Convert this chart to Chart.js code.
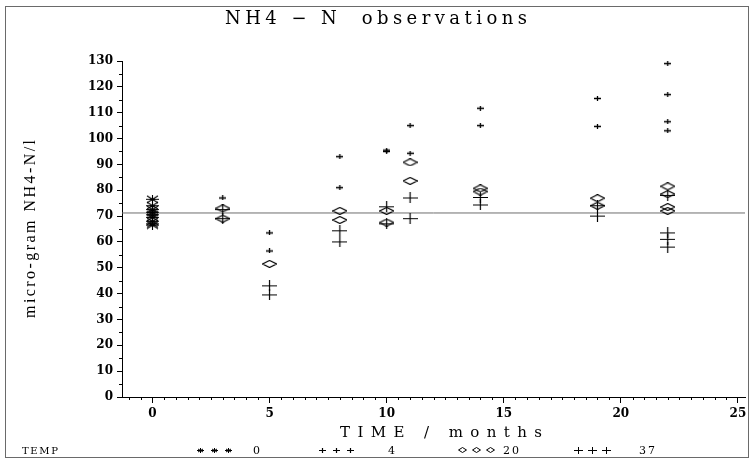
<!DOCTYPE html>
<html>
<head>
<meta charset="utf-8">
<title>NH4-N observations</title>
<script src="https://cdn.jsdelivr.net/npm/chart.js@4.4.1/dist/chart.umd.min.js"></script>
<style>
  html, body { margin: 0; padding: 0; background: #fff; }
</style>
</head>
<body>
<canvas id="chart" width="754" height="464"></canvas>
<script>
// TEMP groups (legend labels)
const tempLabels = ["0", "4", "20", "37"];

// observations per storage temperature: time (months) and NH4-N (micro-gram/l)
const temp0Time  = [0, 0, 0, 0, 0, 0, 0, 0, 0];
const temp0Value = [76.5, 74, 72.5, 71.5, 70.5, 69.5, 68, 67, 66.5];

const temp4Time  = [3, 5, 5, 8, 8, 10, 10, 11, 11, 14, 14, 19, 19, 22, 22, 22, 22];
const temp4Value = [77, 63.5, 56.5, 93, 81, 95.5, 95, 105, 94.3, 111.7, 105, 115.5, 104.7, 129, 117, 106.5, 103];

const temp20Time  = [3, 3, 5, 8, 8, 10, 10, 11, 11, 14, 14, 19, 19, 22, 22, 22, 22];
const temp20Value = [73, 69, 51.5, 72, 68.5, 72, 67.5, 90.8, 83.6, 80.7, 79.5, 76.9, 74, 81.5, 78.5, 73.5, 72];

const temp37Time  = [3, 3, 5, 5, 8, 8, 10, 10, 11, 11, 14, 14, 19, 19, 22, 22, 22, 22];
const temp37Value = [72.5, 69, 43, 39.5, 64.3, 60, 73.6, 67, 77, 69, 77.2, 74.3, 74, 70, 78, 63.5, 61, 58];

// horizontal reference level
const refLevel = 71.2;

const xMin = -1.3, xMax = 25.3;
const yMin = 0, yMax = 130;
const xTickValues = [0, 5, 10, 15, 20, 25];
const yTickValues = [0, 10, 20, 30, 40, 50, 60, 70, 80, 90, 100, 110, 120, 130];

const titleText = "NH4 \u2212 N  observations";
const xTitleText = "TIME / months";
const yTitleText = "micro-gram NH4-N/l";

// SAS-like plot symbols, drawn once on small canvases
function makeMarker(w, h, lw, path) {
    const c = document.createElement("canvas");
    c.width = w; c.height = h;
    const g = c.getContext("2d");
    g.strokeStyle = "#000";
    g.lineWidth = lw;
    g.beginPath();
    path(g, w, h);
    g.stroke();
    return c;
}
const starPath = (g, w, h) => {
    g.moveTo(1, 1); g.lineTo(w - 1, h - 1);
    g.moveTo(1, h - 1); g.lineTo(w - 1, 1);
    g.moveTo(w / 2, 0); g.lineTo(w / 2, h);
    g.moveTo(0, h / 2); g.lineTo(w, h / 2);
};
const plusPath = (g, w, h) => {
    g.moveTo(0, h / 2); g.lineTo(w, h / 2);
    g.moveTo(w / 2, 0); g.lineTo(w / 2, h);
};
const diamondPath = (g, w, h) => {
    g.moveTo(0.5, h / 2); g.lineTo(w / 2, 0.5);
    g.lineTo(w - 0.5, h / 2); g.lineTo(w / 2, h - 0.5);
    g.closePath();
};
const markers = [
    makeMarker(13, 9, 1.1, starPath),
    makeMarker(7, 5, 1.3, plusPath),
    makeMarker(15, 8, 1.2, diamondPath),
    makeMarker(15, 11, 1.2, plusPath)
];
// smaller versions for the legend row
const legendMarkers = [
    makeMarker(7, 5, 1, starPath),
    makeMarker(7, 5, 1.2, plusPath),
    makeMarker(9, 6, 1, diamondPath),
    makeMarker(9, 7, 1, plusPath)
];

const toPoints = (xs, ys) => xs.map((x, i) => ({ x, y: ys[i] }));
const seriesTimes = [temp0Time, temp4Time, temp20Time, temp37Time];
const seriesValues = [temp0Value, temp4Value, temp20Value, temp37Value];

// text with stretched spacing, like the old SAS/GRAPH output
function spacedText(ctx, text, cx, cy, font, width, angle) {
    ctx.save();
    ctx.font = font;
    ctx.letterSpacing = "0px";
    const w = ctx.measureText(text).width;
    const extra = text.length > 1 ? Math.max(0, (width - w) / (text.length - 1)) : 0;
    ctx.letterSpacing = extra + "px";
    ctx.translate(cx, cy);
    if (angle) ctx.rotate(angle);
    ctx.fillStyle = "#000";
    ctx.textAlign = "left";
    ctx.textBaseline = "middle";
    ctx.fillText(text, -width / 2, 0);
    ctx.restore();
}

const legendX = [200, 322, 462, 578];   // first symbol of each legend group
const legendLabelX = [257, 392, 511, 647];

const sasDecor = {
    id: "sasDecor",
    afterDraw(chart) {
        const { ctx, chartArea, scales } = chart;
        ctx.save();
        // frame round the whole picture
        ctx.strokeStyle = "#6a6a6a";
        ctx.lineWidth = 1;
        ctx.strokeRect(5.5, 6.5, 743, 451);

        // minor ticks
        ctx.strokeStyle = "#000";
        ctx.beginPath();
        for (let v = 5; v < yMax; v += 10) {
            const py = Math.round(scales.y.getPixelForValue(v)) + 0.5;
            ctx.moveTo(chartArea.left - 3, py);
            ctx.lineTo(chartArea.left, py);
        }
        for (let v = -1; v <= 25; v += 0.5) {
            if (v % 5 === 0) continue;
            const px = Math.round(scales.x.getPixelForValue(v)) + 0.5;
            ctx.moveTo(px, chartArea.bottom);
            ctx.lineTo(px, chartArea.bottom + 3);
        }
        ctx.stroke();

        // titles
        spacedText(ctx, titleText, 376, 19, '18px "DejaVu Serif"', 302);
        spacedText(ctx, xTitleText, 441, 433, '15px "DejaVu Serif"', 202);
        spacedText(ctx, yTitleText, 31, 229, '16px "Liberation Serif"', 178, -Math.PI / 2);

        // legend row
        spacedText(ctx, "TEMP", 40, 451, '10px "DejaVu Serif"', 36);
        chart.data.datasets.forEach((ds, i) => {
            if (ds.type === "line") return;
            const k = i - 1;
            const m = legendMarkers[k];
            for (let j = 0; j < 3; j++) {
                const cx = legendX[k] + j * 14;
                ctx.drawImage(m, Math.round(cx - m.width / 2), Math.round(450 - m.height / 2));
            }
            spacedText(ctx, ds.label, legendLabelX[k], 451, '11px "DejaVu Serif"', ds.label.length * 8);
        });
        ctx.restore();
    }
};

const pointSets = tempLabels.map((lab, k) => ({
    label: lab,
    data: toPoints(seriesTimes[k], seriesValues[k]),
    pointStyle: markers[k],
    pointRadius: 4,
    borderColor: "#000",
    backgroundColor: "#000",
    order: 1
}));

new Chart(document.getElementById("chart"), {
    type: "scatter",
    data: {
        datasets: [
            {
                label: "ref",
                type: "line",
                data: [{ x: xMin, y: refLevel }, { x: xMax, y: refLevel }],
                borderColor: "#6e6e6e",
                borderWidth: 1,
                pointRadius: 0,
                order: 5
            },
            ...pointSets
        ]
    },
    options: {
        responsive: false,
        animation: false,
        events: [],
        layout: { padding: { left: 10, right: 9, top: 61, bottom: 37 } },
        plugins: {
            legend: { display: false },
            title: { display: false },
            tooltip: { enabled: false }
        },
        scales: {
            x: {
                type: "linear",
                min: xMin,
                max: xMax,
                afterBuildTicks: s => { s.ticks = xTickValues.map(v => ({ value: v })); },
                afterFit: s => { s.height = 30; },
                grid: { drawOnChartArea: false, drawTicks: true, tickLength: 6, color: "#000", lineWidth: 1 },
                border: { display: true, color: "#000", width: 1 },
                ticks: { color: "#000", font: { family: "DejaVu Serif", size: 12, weight: "bold" }, padding: 4, maxRotation: 0, autoSkip: false }
            },
            y: {
                type: "linear",
                min: yMin,
                max: yMax,
                afterBuildTicks: s => { s.ticks = yTickValues.map(v => ({ value: v })); },
                afterFit: s => { s.width = 112; },
                grid: { drawOnChartArea: false, drawTicks: true, tickLength: 5, color: "#000", lineWidth: 1 },
                border: { display: true, color: "#000", width: 1 },
                ticks: { color: "#000", font: { family: "DejaVu Serif", size: 12, weight: "bold" }, padding: 4, autoSkip: false }
            }
        }
    },
    plugins: [sasDecor]
});
</script>
</body>
</html>
